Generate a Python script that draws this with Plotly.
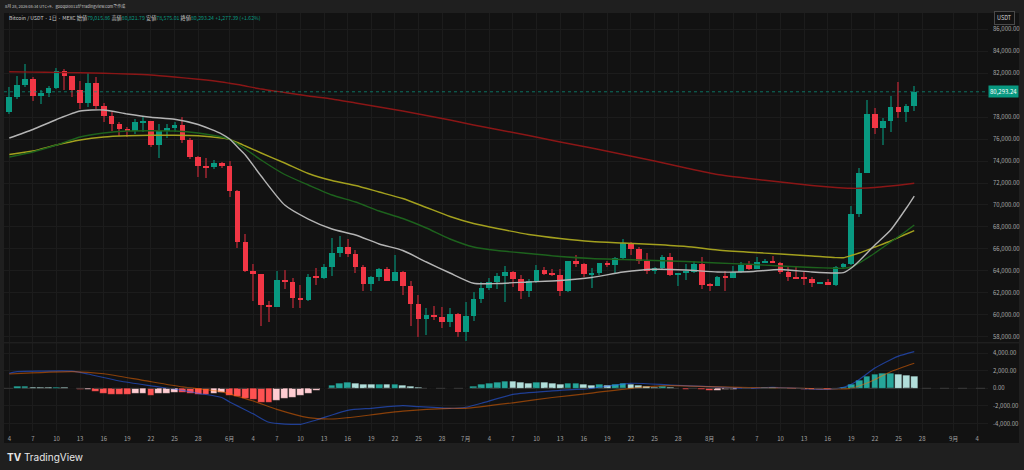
import pandas as pd
import plotly.graph_objects as go

# daily BTC/USDT candles, 2026-05-04 .. 2026-08-27
dates = pd.date_range("2026-05-04", "2026-08-27", freq="D")

opens = [78480, 79845, 80909, 81424, 79939, 80212, 80606, 82151, 81697, 80454,
         79242, 81060, 79030, 78091, 77394, 76879, 76758, 77515, 77606, 75424,
         76727, 77000, 77273, 75879, 74333, 73545, 73424, 73848, 73576, 71303,
         66636, 64000, 63727, 60909, 60758, 63182, 62970, 61576, 61364, 63485,
         63394, 64333, 65667, 66212, 65545, 64394, 62788, 63424, 64182, 63121,
         63879, 62636, 60970, 59606, 59970, 59848, 59394, 60091, 58485, 59909,
         61424, 62485, 63000, 63515, 63879, 63242, 62151, 63060, 64060, 63697,
         63636, 62182, 64909, 64636, 63697, 63848, 64697, 64576, 65151, 66515,
         65969, 64939, 64030, 64242, 65242, 63636, 63818, 63909, 64636, 62757,
         62666, 63424, 63394, 63939, 64545, 64182, 64788, 64848, 64758, 63879,
         63485, 63333, 63303, 62879, 62999, 62757, 64394, 64606, 69182, 72939,
         78273, 76970, 77666, 78939, 78485, 79015.86]
highs = [80755, 81727, 82818, 81666, 80454, 80818, 82424, 82333, 81760, 81302,
         81970, 81606, 79242, 78485, 77576, 77061, 77788, 78091, 77667, 77364,
         77364, 77576, 78030, 76061, 74455, 74242, 74091, 73909, 74030, 71350,
         67364, 64636, 63760, 61303, 64030, 64091, 63394, 62727, 63727, 64242,
         64636, 67000, 67182, 66879, 65909, 64545, 63545, 64242, 64394, 65455,
         64030, 63091, 61818, 60606, 60818, 60697, 60606, 60150, 61152, 62061,
         62970, 63333, 63788, 64454, 64030, 63606, 63242, 64545, 64333, 64212,
         64151, 64950, 65454, 64757, 64242, 64757, 64939, 65303, 66879, 66600,
         66151, 65666, 64394, 65454, 65606, 63848, 64636, 64939, 65242, 62878,
         63545, 64000, 64454, 64848, 64909, 65242, 65060, 65364, 64848, 64333,
         64333, 63939, 63424, 63030, 63242, 64454, 64757, 69909, 73333, 79545,
         78788, 77939, 79939, 81212, 79182, 80821.79]
lows = [78273, 79609, 80757, 79485, 79182, 79788, 80515, 80454, 79848, 78727,
        78878, 78697, 77576, 76758, 76303, 76152, 76455, 76667, 75303, 74242,
        76061, 76667, 75606, 74182, 72515, 72424, 73273, 73333, 70697, 66121,
        63950, 61303, 59030, 59394, 60697, 62333, 60667, 60606, 61303, 62727,
        63300, 63545, 65242, 65303, 63848, 62182, 62212, 63121, 63100, 63100,
        61818, 59000, 58030, 58182, 59545, 58788, 58879, 58030, 57667, 59485,
        61121, 62273, 62333, 61212, 62576, 61424, 61606, 62879, 63606, 63545,
        61727, 62100, 64394, 63485, 62424, 63636, 64394, 63788, 65060, 65454,
        64636, 63727, 63727, 64091, 63545, 62666, 63182, 63788, 62333, 62182,
        62640, 62212, 63333, 63788, 64091, 64150, 64697, 64697, 63727, 63121,
        63242, 62727, 62515, 62818, 62697, 62636, 64151, 64515, 68878, 72878,
        76455, 75455, 76667, 77879, 77576, 78575.01]
closes = [79845, 80909, 81424, 79939, 80212, 80606, 82151, 81697, 80454, 79242,
          81060, 79030, 78091, 77394, 76879, 76758, 77515, 77606, 75424, 76727,
          77000, 77273, 75879, 74333, 73545, 73424, 73848, 73576, 71303, 66636,
          64000, 63727, 60909, 60758, 63182, 62970, 61576, 61364, 63485, 63394,
          64333, 65667, 66212, 65545, 64394, 62788, 63424, 64182, 63121, 63879,
          62636, 60970, 59606, 59970, 59848, 59394, 60091, 58485, 59909, 61424,
          62485, 63000, 63515, 63879, 63242, 62151, 63060, 64060, 63697, 63636,
          62182, 64909, 64636, 63697, 63848, 64697, 64576, 65151, 66515, 65969,
          64939, 64030, 64242, 65242, 63636, 63818, 63909, 64636, 62757, 62666,
          63424, 63394, 63939, 64545, 64182, 64788, 64848, 64758, 63879, 63485,
          63333, 63303, 62879, 62999, 62757, 64394, 64606, 69182, 72939, 78273,
          76970, 77666, 78939, 78485, 79015.85, 80293.24]

# moving averages (sampled along the drawn lines)
ma_dates = ["2026-05-04", "2026-05-07", "2026-05-10", "2026-05-13", "2026-05-16", "2026-05-19",
            "2026-05-22", "2026-05-25", "2026-05-28", "2026-05-31", "2026-06-01", "2026-06-02",
            "2026-06-03", "2026-06-05", "2026-06-08", "2026-06-11", "2026-06-14", "2026-06-17",
            "2026-06-20", "2026-06-23", "2026-06-26", "2026-06-29", "2026-07-02", "2026-07-05",
            "2026-07-09", "2026-07-13", "2026-07-17", "2026-07-21", "2026-07-25", "2026-07-29",
            "2026-08-02", "2026-08-06", "2026-08-10", "2026-08-14", "2026-08-17", "2026-08-18",
            "2026-08-19", "2026-08-20", "2026-08-22", "2026-08-24", "2026-08-26", "2026-08-27"]
ma_gray = [76091, 76864, 77773, 78545, 78636, 78273, 77973, 77791, 77318, 76455, 76000, 75273,
           74545, 72636, 70000, 68727, 67818, 67273, 66455, 65864, 64818, 63818, 62882, 62864,
           63000, 63136, 63409, 63909, 64155, 64091, 63909, 63936, 64136, 63909, 63818, 63845,
           64273, 64909, 66364, 67727, 69727, 70818]
ma_green = [74364, 74818, 75455, 76182, 76545, 76727, 76755, 76727, 76545, 76182, 75973, 75545,
            75091, 74091, 72773, 71818, 70909, 70273, 69455, 68773, 67909, 66909, 66182, 65864,
            65591, 65318, 65136, 65045, 64955, 64864, 64727, 64609, 64455, 64318, 64245, 64245,
            64364, 64727, 65636, 66636, 67636, 68182]
ma_yellow = [74591, 74909, 75455, 75909, 76182, 76291, 76336, 76336, 76291, 76091, 75973, 75682,
             75364, 74727, 73818, 72864, 72227, 71773, 71182, 70591, 69773, 68955, 68318, 67864,
             67318, 66955, 66682, 66545, 66409, 66227, 65909, 65709, 65545, 65364, 65218, 65209,
             65409, 65636, 66182, 66727, 67364, 67664]
ma_red = [82109, 82082, 82055, 82018, 81973, 81909, 81818, 81636, 81427, 81182, 81064, 80955,
          80818, 80545, 80227, 79909, 79636, 79273, 78909, 78545, 78136, 77727, 77273, 76864,
          76318, 75727, 75182, 74591, 74000, 73364, 72773, 72409, 72091, 71773, 71591, 71545,
          71518, 71518, 71591, 71727, 71882, 71973]

# MACD pane
hist = [30, 150, 190, 110, 76, 40, 90, 60, -20, -190,
        -150, -380, -600, -680, -690, -700, -640, -600, -760, -600,
        -570, -455, -530, -600, -680, -690, -560, -530, -800, -950,
        -1213, -1327, -1592, -1600, -1400, -1137, -1023, -834, -569, -303,
        -40, 265, 493, 644, 569, 455, 450, 460, 379, 455,
        341, 227, 114, 30, -30, -40, -20, -40, -10, 227,
        417, 530, 682, 758, 750, 644, 569, 682, 606, 530,
        379, 493, 500, 379, 303, 379, 341, 417, 493, 417,
        265, 152, 114, 152, 38, -76, -80, -10, -114, -265,
        -227, -190, -152, -76, -20, 20, 40, 40, -20, -40,
        -76, -100, -114, -116, -152, -76, 76, 379, 872, 1364,
        1554, 1630, 1705, 1554, 1402, 1326]
macd_dates = ["2026-05-04", "2026-05-05", "2026-05-08", "2026-05-12", "2026-05-14", "2026-05-18",
              "2026-05-22", "2026-05-26", "2026-05-28", "2026-05-31", "2026-06-01", "2026-06-04",
              "2026-06-06", "2026-06-10", "2026-06-12", "2026-06-16", "2026-06-19", "2026-06-23",
              "2026-06-25", "2026-06-29", "2026-07-01", "2026-07-03", "2026-07-07", "2026-07-12",
              "2026-07-17", "2026-07-22", "2026-07-27", "2026-08-01", "2026-08-06", "2026-08-09",
              "2026-08-14", "2026-08-16", "2026-08-18", "2026-08-19", "2026-08-20", "2026-08-21",
              "2026-08-22", "2026-08-24", "2026-08-25", "2026-08-27"]
macd_line = [1700, 1886, 1950, 1950, 1620, 829, 280, -230, -568, -1050, -1550, -2900,
             -3862, -4090, -3600, -2500, -2272, -1980, -2090, -2272, -2158, -1700, -700, -300,
             0, 568, 375, 182, 0, 114, -80, -114, 100, 450, 1000, 1650, 2300, 3250, 3650, 4158]
signal_dates = ["2026-05-04", "2026-05-12", "2026-05-16", "2026-05-21", "2026-05-26", "2026-05-31",
                "2026-06-04", "2026-06-07", "2026-06-11", "2026-06-14", "2026-06-16", "2026-06-23",
                "2026-06-29", "2026-07-01", "2026-07-07", "2026-07-12", "2026-07-17", "2026-07-22",
                "2026-07-27", "2026-08-01", "2026-08-06", "2026-08-13", "2026-08-17", "2026-08-19",
                "2026-08-21", "2026-08-22", "2026-08-24", "2026-08-27"]
signal_line = [1625, 1886, 1650, 900, 150, -400, -1450, -2400, -3340, -3488, -3340, -2600,
               -2272, -2272, -1650, -1050, -550, 0, 295, 182, 80, 0, -80, 0, 600, 1000, 1886, 2840]

BG = "#121212"
FRAME = "#1f1f1f"
GRID = "#1c1c1c"
UP, DOWN = "#089981", "#f23645"
UP_WICK, DOWN_WICK = "#0b5c4d", "#7d2029"
FONT = "Noto Sans CJK JP, Noto Sans, sans-serif"
DAY = 86400000

up = [c >= o for o, c in zip(opens, closes)]
body_lo = [min(o, c) for o, c in zip(opens, closes)]
body_h = [max(abs(c - o), 90) for o, c in zip(opens, closes)]

fig = go.Figure()

fig.add_trace(go.Bar(x=dates, y=[h - l for h, l in zip(highs, lows)], base=lows,
                     width=DAY * 0.14, marker=dict(color=[UP_WICK if u else DOWN_WICK for u in up], line_width=0),
                     hoverinfo="skip", showlegend=False))
fig.add_trace(go.Bar(x=dates, y=body_h, base=body_lo, width=DAY * 0.72,
                     marker=dict(color=[UP if u else DOWN for u in up], line_width=0),
                     showlegend=False))

for vals, col in [(ma_red, "#8a1616"), (ma_yellow, "#a3a01e"), (ma_green, "#1d621d"), (ma_gray, "#b4b4b4")]:
    fig.add_trace(go.Scatter(x=ma_dates, y=vals, mode="lines", showlegend=False,
                             line=dict(color=col, width=1.4, shape="spline", smoothing=0.6)))

# histogram colours: TradingView grow/fall scheme
hist_cols = []
for i, v in enumerate(hist):
    prev = hist[i - 1] if i else v
    if v >= 0:
        hist_cols.append("#26a69a" if v >= prev else "#b2dfdb")
    else:
        hist_cols.append("#ffcdd2" if v > prev else "#ff5252")

fig.add_trace(go.Bar(x=dates, y=hist, width=DAY * 0.86, yaxis="y2",
                     marker=dict(color=hist_cols, line=dict(color="rgba(0,0,0,0.35)", width=0.5)),
                     showlegend=False))
fig.add_trace(go.Scatter(x=macd_dates, y=macd_line, yaxis="y2", mode="lines", showlegend=False,
                         line=dict(color="rgba(41,98,255,0.55)", width=1.2, shape="spline", smoothing=0.6)))
fig.add_trace(go.Scatter(x=signal_dates, y=signal_line, yaxis="y2", mode="lines", showlegend=False,
                         line=dict(color="rgba(255,109,0,0.5)", width=1.2, shape="spline", smoothing=0.6)))

# time axis labels: month start + every 3 days
tickvals, ticktext = [], []
for d in pd.date_range("2026-05-01", "2026-09-06", freq="D"):
    if d.day == 1:
        tickvals.append(d)
        ticktext.append(f"{d.month}月")
    elif d.day in range(4, 29, 3):
        tickvals.append(d)
        ticktext.append(str(d.day))

last_c = closes[-1]
price_ticks = list(range(58000, 86001, 2000))
price_text = ["" if abs(p - last_c) < 1000 else f"{p:,.2f}" for p in price_ticks]
macd_ticks = [-4000, -2000, 0, 2000, 4000]

x0 = dates[0] - pd.Timedelta(days=0.673)
x1 = dates[0] + pd.Timedelta(days=124.37)
xd = [4 / 1024, 988 / 1024]

fig.update_layout(
    width=1024, height=470, autosize=False,
    margin=dict(l=0, r=0, t=0, b=0),
    paper_bgcolor=FRAME, plot_bgcolor=BG,
    barmode="overlay", bargap=0,
    font=dict(family=FONT, color="#a8a8a8", size=6),
    xaxis=dict(type="date", domain=xd, range=[x0, x1], anchor="y2",
               tickvals=tickvals, ticktext=ticktext, tickfont=dict(size=6, color="#a0a0a0"),
               showgrid=True, gridcolor=GRID, gridwidth=1, zeroline=False,
               showline=False, ticks="", ticklabelstandoff=3, fixedrange=True),
    yaxis=dict(domain=[0.2713, 0.9723], range=[57500, 87455], side="right", anchor="x",
               tickvals=price_ticks, ticktext=price_text, tickfont=dict(size=6, color="#a8a8a8"),
               showgrid=True, gridcolor=GRID, zeroline=False, ticks="", ticklabelstandoff=4),
    yaxis2=dict(domain=[0.083, 0.2692], range=[-4852, 5091], side="right", anchor="x",
                tickvals=macd_ticks, ticktext=[f"{v:,.2f}" for v in macd_ticks],
                tickfont=dict(size=6, color="#a8a8a8"),
                showgrid=True, gridcolor=GRID, zeroline=False, ticks="", ticklabelstandoff=4),
)

shapes = [
    # dark chart panel
    dict(type="rect", xref="paper", yref="paper", x0=4 / 1024, x1=1019 / 1024,
         y0=(470 - 443) / 470, y1=(470 - 13) / 470, fillcolor=BG, line_width=0, layer="below"),
    # pane separator
    dict(type="line", xref="paper", yref="paper", x0=4 / 1024, x1=1019 / 1024,
         y0=(470 - 342.8) / 470, y1=(470 - 342.8) / 470, line=dict(color="#262626", width=1)),
    # last price line
    dict(type="line", xref="paper", yref="y", x0=xd[0], x1=xd[1], y0=last_c, y1=last_c,
         line=dict(color="rgba(8,153,129,0.7)", width=1, dash="dot")),
    # MACD zero line
    dict(type="line", xref="paper", yref="y2", x0=xd[0], x1=xd[1], y0=0, y1=0,
         line=dict(color="#3a3a3a", width=1, dash="dash")),
]
fig.update_layout(shapes=shapes)

o, h, l, c = opens[-1], highs[-1], lows[-1], closes[-1]
chg = c - closes[-2]
val = lambda s: f"<span style='color:{UP}'>{s}</span>"
header = ("Bitcoin / USDT · 1日 · MEXC "
          f"始値{val(f'{o:,.2f}')} 高値{val(f'{h:,.2f}')} 安値{val(f'{l:,.2f}')} "
          f"終値{val(f'{c:,.2f}')} {val(f'{chg:+,.2f} ({chg / closes[-2] * 100:+.2f}%)')}")

fig.add_annotation(xref="paper", yref="paper", x=7 / 1024, y=(470 - 17.5) / 470,
                   xanchor="left", yanchor="middle", showarrow=False, text=header,
                   font=dict(size=5.2, color="#c8c8c8", family=FONT))
fig.add_annotation(xref="paper", yref="paper", x=3 / 1024, y=(470 - 6) / 470,
                   xanchor="left", yanchor="middle", showarrow=False,
                   text="8月 28, 2026 08:34 UTC+9、gooqol0013がTradingView.comで作成",
                   font=dict(size=4, color="#c8c8c8", family=FONT))
fig.add_annotation(xref="paper", yref="y", x=1003 / 1024, y=last_c, xanchor="center", yanchor="middle",
                   showarrow=False, text=f"{last_c:,.2f}", bgcolor=UP, borderpad=1,
                   font=dict(size=6, color="#ffffff", family=FONT))
fig.add_annotation(xref="paper", yref="paper", x=1004 / 1024, y=(470 - 18.5) / 470,
                   xanchor="center", yanchor="middle", showarrow=False, text="USDT",
                   bgcolor=BG, bordercolor="#4a4a4a", borderwidth=1, borderpad=2,
                   font=dict(size=5.5, color="#d0d0d0", family=FONT))
fig.add_annotation(xref="paper", yref="paper", x=5 / 1024, y=(470 - 457) / 470,
                   xanchor="left", yanchor="middle", showarrow=False,
                   text="<b>TV</b> TradingView",
                   font=dict(size=10, color="#e6e6e6", family="Inter, Noto Sans, sans-serif"))

# the page's default 8px body margin would push the 1024px figure out of the window
fig.write_html("out.html", config={"displayModeBar": False},
               post_script="document.body.style.margin='0';document.body.style.overflow='hidden';")
